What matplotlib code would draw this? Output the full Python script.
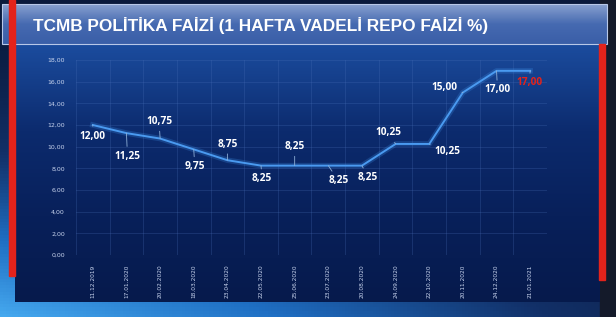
import numpy as np
import matplotlib.pyplot as plt
from matplotlib.patches import Rectangle
from matplotlib.colors import LinearSegmentedColormap

# Data
dates = ['11.12.2019', '17.01.2020', '20.02.2020', '18.03.2020', '23.04.2020',
         '22.05.2020', '25.06.2020', '23.07.2020', '20.08.2020', '24.09.2020',
         '22.10.2020', '20.11.2020', '24.12.2020', '21.01.2021']
rates = [12.00, 11.25, 10.75, 9.75, 8.75, 8.25, 8.25, 8.25, 8.25, 10.25,
         10.25, 15.00, 17.00, 17.00]
yticks = [0, 2, 4, 6, 8, 10, 12, 14, 16, 18]

# label offsets in pixels (dx, dy) from each point
label_off = [(0, -11), (1, -23), (-1, 17), (1, -17), (0, 16), (1, -13), (0, 19),
             (10, -15), (6, -12), (-7, 11), (18, -8), (-18, 5), (1, -19), (-1, -12)]

W, H = 616, 317
fig = plt.figure(figsize=(W / 100, H / 100), dpi=100)

# background layer in pixel coordinates
bg = fig.add_axes([0, 0, 1, 1])
bg.set_xlim(0, W)
bg.set_ylim(H, 0)
bg.axis('off')

# outer background: dark at top, light blue lower left, darker to the right
vert = np.linspace(0, 1, 100).reshape(-1, 1)
horiz = np.linspace(0, 1, 200).reshape(1, -1)
mix = np.clip(vert ** 1.5 * (1.0 - 0.75 * horiz), 0, 1)
outer = LinearSegmentedColormap.from_list('outer', ['#0a1a3c', '#123068', '#1f6fc4', '#45a8ee'])
bg.imshow(mix, extent=[0, W, H, 0], cmap=outer, aspect='auto', zorder=0, vmin=0, vmax=1)
bg.add_patch(Rectangle((600, 0), 16, H, color='#141a2a', zorder=1))

# main panel gradient
panel = LinearSegmentedColormap.from_list('panel', ['#1b4c9e', '#0c2b6e', '#08205a', '#061a4c'])
bg.imshow(np.linspace(0, 1, 200).reshape(-1, 1), extent=[15, 600, 302, 44],
          cmap=panel, aspect='auto', zorder=2)

# title bar
bar = LinearSegmentedColormap.from_list('bar', ['#8fa8d8', '#4a6fb8', '#3d63ae'])
bg.imshow(np.linspace(0, 1, 50).reshape(-1, 1), extent=[2, 607, 44, 4],
          cmap=bar, aspect='auto', zorder=3, alpha=0.95)
bg.add_patch(Rectangle((2, 4), 605, 40, fill=False, ec='#b8c8e8', lw=0.8, zorder=4))
bg.text(33, 25, 'TCMB POLİTİKA FAİZİ (1 HAFTA VADELİ REPO FAİZİ %)', color='white',
        fontsize=12.4, fontweight='bold', family='Liberation Sans', va='center', ha='left', zorder=5)

# red side bars
bg.add_patch(Rectangle((9, 0), 6, 276, color='#e3231b', zorder=6))
bg.add_patch(Rectangle((599, 44), 6, 236, color='#e3231b', zorder=6))

# chart axes
ax = fig.add_axes([76 / W, 62 / H, 471 / W, 195 / H])
ax.patch.set_alpha(0)
x = np.arange(len(dates))
ax.set_xlim(-0.5, len(dates) - 0.5)
ax.set_ylim(0, 18)

for v in yticks:
    ax.axhline(v, color='#4a70b8', lw=0.6, alpha=0.3, zorder=1)
for b in np.arange(-0.5, len(dates), 1):
    ax.axvline(b, color='#4a70b8', lw=0.6, alpha=0.3, zorder=1)

ax.plot(x, rates, color='#3d8fe6', lw=4, alpha=0.25, solid_joinstyle='round', zorder=2)
ax.plot(x, rates, color='#4a9af0', lw=1.4, solid_joinstyle='round', zorder=3)

for i, (v, (dx, dy)) in enumerate(zip(rates, label_off)):
    col = '#e3231b' if i == len(rates) - 1 else 'white'
    ax.annotate(f'{v:.2f}'.replace('.', ','), (i, v), xytext=(dx, dy),
                textcoords='offset pixels', ha='center', va='center',
                color=col, fontsize=7.3, fontweight='bold', family='Open Sans',
                arrowprops=dict(arrowstyle='-', color='#8fb0d8', lw=0.6,
                                shrinkA=1, shrinkB=0), zorder=4)

ax.set_yticks(yticks)
ax.set_yticklabels([f'{v:.2f}'.replace('.', ',') for v in yticks])
ax.set_xticks(x)
ax.set_xticklabels(dates, rotation=90)
ax.tick_params(axis='y', length=0, pad=8, labelsize=4.5, labelcolor='#c8d4ee')
ax.tick_params(axis='x', length=0, pad=7, labelsize=4.2, labelcolor='#c8d4ee')
for s in ax.spines.values():
    s.set_visible(False)

fig.savefig('out.png', dpi=100)
